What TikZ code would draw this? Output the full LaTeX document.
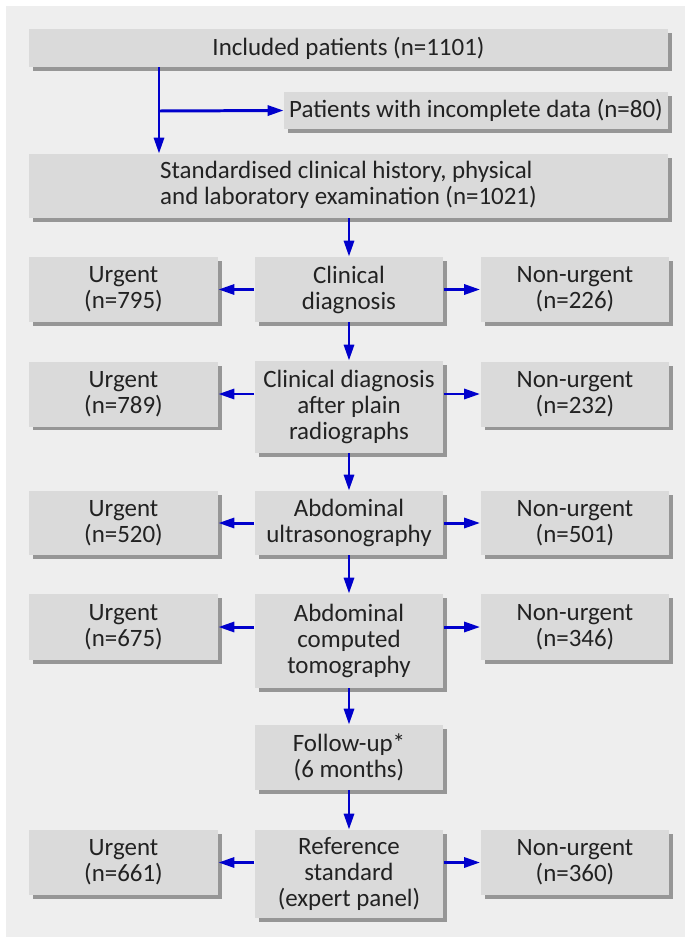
\documentclass[tikz,border=0pt]{standalone}
\usepackage{fontspec}
\setmainfont{Carlito}
\usetikzlibrary{arrows.meta,shadows}
\definecolor{panelgray}{RGB}{238,238,238}
\definecolor{boxgray}{RGB}{218,218,218}
\definecolor{shadowgray}{RGB}{150,150,150}
\definecolor{arrowblue}{RGB}{0,0,204}
\definecolor{textgray}{RGB}{34,34,34}
\begin{document}
\begin{tikzpicture}[x=0.02cm,y=-0.02cm,
	stage/.style={fill=boxgray,inner sep=0pt,align=center,text=textgray,
		font=\fontsize{14.2}{14.8}\selectfont,
		drop shadow={shadow xshift=0.08cm,shadow yshift=-0.08cm,fill=shadowgray,opacity=1}},
	side/.style={stage,minimum width=3.78cm,minimum height=1.3cm},
	mid/.style={stage,minimum width=3.78cm},
	flow/.style={draw=arrowblue,line width=1.7pt,-{Triangle[length=0.32cm,width=0.2cm]}}]

	\useasboundingbox (0,0) rectangle (685,940);
	\fill[panelgray] (6,6) rectangle (685,937);

	% top of the chart
	\node[stage,minimum width=12.78cm,minimum height=0.76cm] (inc) at (348.5,48) {Included patients (n=1101)};
	\node[stage,minimum width=7.68cm,minimum height=0.74cm] (incomp) at (476,110.5) {Patients with incomplete data (n=80)};
	\node[stage,minimum width=12.78cm,minimum height=1.28cm] (hist) at (348.5,186)
		{\begin{tabular}{@{}l@{}}Standardised clinical history, physical\\and laboratory examination (n=1021)\end{tabular}};

	\coordinate (split) at (159,111);
	\draw[flow] (inc.south -| split) -- (hist.north -| split);
	\draw[flow] (split) -- (incomp.west);

	% the tests, one row each
	\node[mid,minimum height=1.3cm] (diag) at (349,289.5) {Clinical\\diagnosis};
	\node[side] (urg1) at (123.5,289.5) {Urgent\\(n=795)};
	\node[side] (non1) at (575,289.5) {Non-urgent\\(n=226)};

	\node[mid,minimum height=1.84cm] (xray) at (349,407) {Clinical diagnosis\\after plain\\radiographs};
	\node[side] (urg2) at (123.5,394) {Urgent\\(n=789)};
	\node[side] (non2) at (575,394) {Non-urgent\\(n=232)};

	\node[mid,minimum height=1.28cm] (us) at (349,523) {Abdominal\\ultrasonography};
	\node[side,minimum height=1.28cm] (urg3) at (123.5,523) {Urgent\\(n=520)};
	\node[side,minimum height=1.28cm] (non3) at (575,523) {Non-urgent\\(n=501)};

	\node[mid,minimum height=1.88cm] (ct) at (349,641) {Abdominal\\computed\\tomography};
	\node[side,minimum height=1.32cm] (urg4) at (123.5,627) {Urgent\\(n=675)};
	\node[side,minimum height=1.32cm] (non4) at (575,627) {Non-urgent\\(n=346)};

	\node[mid,minimum height=1.3cm] (follow) at (349,757.5) {Follow-up*\\(6 months)};

	\node[mid,minimum height=1.76cm] (ref) at (349,874) {Reference\\standard\\(expert panel)};
	\node[side] (urg5) at (123.5,862.5) {Urgent\\(n=661)};
	\node[side] (non5) at (575,862.5) {Non-urgent\\(n=360)};

	\draw[flow] (hist.south -| diag) -- (diag.north);
	\draw[flow] (diag) -- (xray);
	\draw[flow] (xray) -- (us);
	\draw[flow] (us) -- (ct);
	\draw[flow] (ct) -- (follow);
	\draw[flow] (follow) -- (ref);

	\foreach \t/\n in {diag/1,xray/2,us/3,ct/4,ref/5}{
		\draw[flow] (\t.west |- urg\n.east) -- (urg\n.east);
		\draw[flow] (\t.east |- non\n.west) -- (non\n.west);
	}
\end{tikzpicture}
\end{document}
